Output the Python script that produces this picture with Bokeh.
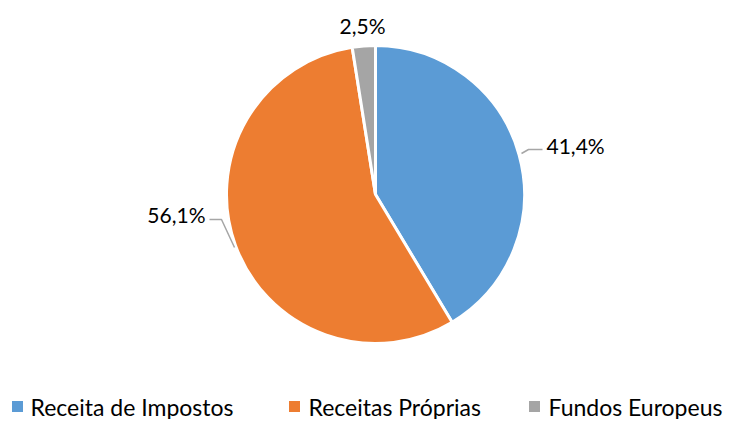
import math
from bokeh.plotting import figure
from bokeh.models import ColumnDataSource
from bokeh.core.properties import value
from bokeh.embed import file_html
from bokeh.resources import INLINE

categories = ["Receita de Impostos", "Receitas Próprias", "Fundos Europeus"]
shares = [41.4, 56.1, 2.5]
labels = ["41,4%", "56,1%", "2,5%"]
colors = ["#5b9bd5", "#ed7d31", "#a5a5a5"]

W, H = 736, 419
FONT = "Lato"

def py(page_y):
    return H - page_y

def px(page_x):
    return page_x

p = figure(width=W, height=H, x_range=(0, W), y_range=(0, H),
           output_backend="svg", toolbar_location=None, min_border=0)
p.axis.visible = False
p.grid.visible = False
p.outline_line_color = None
p.background_fill_color = "white"

cx, cy, r = px(375), py(194), 149
total = sum(shares)
starts, ends = [], []
a = math.pi / 2
for s in shares:
    starts.append(a)
    a = a - 2 * math.pi * s / total
    ends.append(a)

src = ColumnDataSource(dict(start=starts, end=ends, color=colors, cat=categories))
p.wedge(x=cx, y=cy, radius=r, start_angle="start", end_angle="end", direction="clock",
        fill_color="color", line_color="white", line_width=3, source=src)

# leader lines
p.line(x=[px(521), px(528), px(542)], y=[py(153), py(149), py(149)], line_color="#a6a6a6", line_width=1.5)
p.line(x=[px(209), px(221), px(234)], y=[py(219), py(219), py(247)], line_color="#a6a6a6", line_width=1.5)

# data labels
lab_x = [px(546), px(205), px(362)]
lab_y = [py(145), py(214), py(25)]
lab_align = ["left", "right", "center"]
p.text(x=lab_x, y=lab_y, text=labels, text_align=lab_align, text_baseline="middle",
       text_font=value(FONT), text_font_size="21px", text_color="#000000")

# legend
sq_x = [px(17), px(294), px(534)]
tx_x = [px(30), px(308), px(548)]
leg_y = py(406)
p.rect(x=sq_x, y=[leg_y] * 3, width=11, height=11, fill_color=colors, line_color=None)
p.text(x=tx_x, y=[leg_y] * 3, text=categories, text_align="left", text_baseline="middle",
       text_font=value(FONT), text_font_size="23px", text_color="#000000")

open("out.html", "w").write(file_html(p, INLINE))
